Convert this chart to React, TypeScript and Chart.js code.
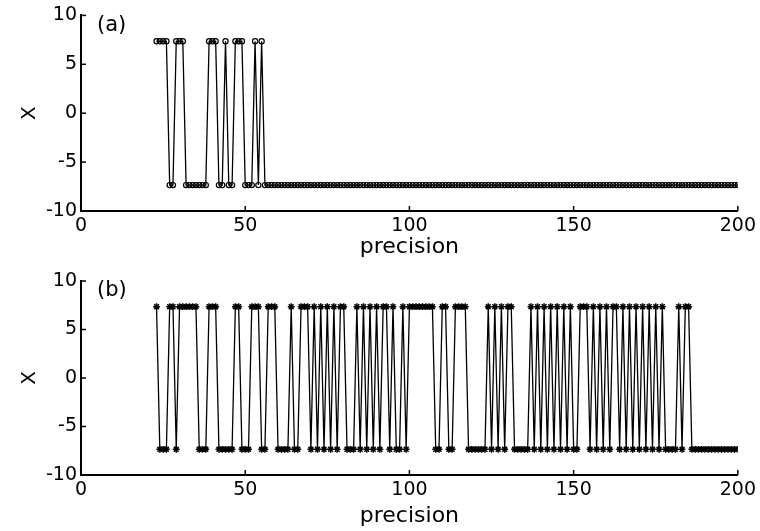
import React, { useEffect, useRef } from "react";
import { Chart, registerables } from "chart.js";

Chart.register(...registerables);

// ---- data ----
const H = 7.35;
const L = -7.35;
const firstPrecision = 23;
const lastPrecision = 200;
const precision: number[] = Array.from(
  { length: lastPrecision - firstPrecision + 1 },
  (_, i) => firstPrecision + i
);

// panel (a): x at precision 23..200
const xA: number[] = [
  H, H, H, H, L, L, H, // 23-29
  H, H, L, L, L, L, L, L, L, H, // 30-39
  H, H, L, L, H, L, L, H, H, H, // 40-49
  L, L, L, H, L, H, L, L, L, L, // 50-59
  L, L, L, L, L, L, L, L, L, L, // 60-69
  L, L, L, L, L, L, L, L, L, L, // 70-79
  L, L, L, L, L, L, L, L, L, L, // 80-89
  L, L, L, L, L, L, L, L, L, L, // 90-99
  L, L, L, L, L, L, L, L, L, L, // 100-109
  L, L, L, L, L, L, L, L, L, L, // 110-119
  L, L, L, L, L, L, L, L, L, L, // 120-129
  L, L, L, L, L, L, L, L, L, L, // 130-139
  L, L, L, L, L, L, L, L, L, L, // 140-149
  L, L, L, L, L, L, L, L, L, L, // 150-159
  L, L, L, L, L, L, L, L, L, L, // 160-169
  L, L, L, L, L, L, L, L, L, L, // 170-179
  L, L, L, L, L, L, L, L, L, L, // 180-189
  L, L, L, L, L, L, L, L, L, L, // 190-199
  L, // 200
];

// panel (b): x at precision 23..200
const xB: number[] = [
  H, L, L, L, H, H, L, // 23-29
  H, H, H, H, H, H, L, L, L, H, // 30-39
  H, H, L, L, L, L, L, H, H, L, // 40-49
  L, L, H, H, H, L, L, H, H, H, // 50-59
  L, L, L, L, H, L, L, H, H, H, // 60-69
  L, H, L, H, L, H, L, H, L, H, // 70-79
  H, L, L, L, H, L, H, L, H, L, // 80-89
  H, L, H, H, L, H, L, L, H, L, // 90-99
  H, H, H, H, H, H, H, H, L, L, // 100-109
  H, H, L, L, H, H, H, H, L, L, // 110-119
  L, L, L, L, H, L, H, L, H, L, // 120-129
  H, H, L, L, L, L, L, H, L, H, // 130-139
  L, H, L, H, L, H, L, H, L, H, // 140-149
  L, L, H, H, H, L, H, L, H, L, // 150-159
  H, L, H, H, L, H, L, H, L, H, // 160-169
  L, H, L, H, L, H, L, H, L, L, // 170-179
  L, L, H, L, H, H, L, L, L, L, // 180-189
  L, L, L, L, L, L, L, L, L, L, // 190-199
  L, // 200
];

const xTicks = [0, 50, 100, 150, 200];
const yTicks = [-10, -5, 0, 5, 10];
const xMin = 0, xMax = 200, yMin = -10, yMax = 10;
const panelLabels = ["(a)", "(b)"];
const xTitle = "precision";
const yTitle = "X";

const FONT = '"DejaVu Sans", sans-serif';

const innerTicks = {
  id: "innerTicks",
  afterDraw(chart: any, _args: any, opts: any) {
    const { ctx, chartArea, scales } = chart;
    ctx.save();
    ctx.strokeStyle = "#000";
    ctx.lineWidth = 1.5;
    xTicks.forEach((v) => {
      const px = scales.x.getPixelForValue(v);
      ctx.beginPath();
      ctx.moveTo(px, chartArea.bottom);
      ctx.lineTo(px, chartArea.bottom - 5);
      ctx.stroke();
    });
    yTicks.forEach((v) => {
      const py = scales.y.getPixelForValue(v);
      ctx.beginPath();
      ctx.moveTo(chartArea.left, py);
      ctx.lineTo(chartArea.left + 5, py);
      ctx.stroke();
    });
    ctx.fillStyle = "#000";
    ctx.font = `21px ${FONT}`;
    ctx.textAlign = "left";
    ctx.textBaseline = "middle";
    ctx.fillText(opts.text, chartArea.left + 16, chartArea.top + 10);
    ctx.restore();
  },
};

function makeConfig(
  values: number[],
  pointStyle: string,
  radius: number,
  pointBorder: number,
  label: string,
  topPad: number,
  xAxisH: number,
  titlePadBottom: number
): any {
  return {
    type: "line",
    data: {
      datasets: [
        {
          data: precision.map((p, i) => ({ x: p, y: values[i] })),
          borderColor: "#000",
          borderWidth: 1.3,
          pointStyle,
          pointRadius: radius,
          pointBorderColor: "#000",
          pointBackgroundColor: "rgba(0,0,0,0)",
          pointBorderWidth: pointBorder,
          tension: 0,
          fill: false,
        },
      ],
    },
    options: {
      responsive: false,
      animation: false,
      events: [],
      layout: { padding: { top: topPad, right: 20, left: 0, bottom: 0 } },
      plugins: {
        legend: { display: false },
        tooltip: { enabled: false },
        innerTicks: { text: label },
      },
      scales: {
        x: {
          type: "linear",
          min: xMin,
          max: xMax,
          afterBuildTicks: (s: any) => {
            s.ticks = xTicks.map((v) => ({ value: v }));
          },
          afterFit: (s: any) => {
            s.height = xAxisH;
          },
          grid: { display: false, drawTicks: false, tickLength: 0 },
          border: { display: true, color: "#000", width: 2 },
          ticks: {
            color: "#000",
            font: { family: FONT, size: 19 },
            padding: 4,
            maxRotation: 0,
            autoSkip: false,
          },
          title: {
            display: true,
            text: xTitle,
            color: "#000",
            font: { family: FONT, size: 22 },
            padding: { top: 0, bottom: titlePadBottom },
          },
        },
        y: {
          type: "linear",
          min: yMin,
          max: yMax,
          afterBuildTicks: (s: any) => {
            s.ticks = yTicks.map((v) => ({ value: v }));
          },
          afterFit: (s: any) => {
            s.width = 81;
          },
          grid: { display: false, drawTicks: false, tickLength: 0 },
          border: { display: true, color: "#000", width: 2 },
          ticks: {
            color: "#000",
            font: { family: FONT, size: 19 },
            padding: 4,
            autoSkip: false,
          },
          title: {
            display: true,
            text: yTitle,
            color: "#000",
            font: { family: FONT, size: 20 },
            padding: { top: 18, bottom: 0 },
          },
        },
      },
    },
    plugins: [innerTicks],
  };
}

export default function App() {
  const refA = useRef<HTMLCanvasElement | null>(null);
  const refB = useRef<HTMLCanvasElement | null>(null);

  useEffect(() => {
    const a = new Chart(
      refA.current as HTMLCanvasElement,
      makeConfig(xA, "circle", 2.6, 1.2, panelLabels[0], 14, 54, 5)
    );
    const b = new Chart(
      refB.current as HTMLCanvasElement,
      makeConfig(xB, "star", 3.4, 1.5, panelLabels[1], 16, 56, 2)
    );
    return () => {
      a.destroy();
      b.destroy();
    };
  }, []);

  return (
    <div
      style={{
        position: "absolute",
        left: 0,
        top: 0,
        width: 760,
        height: 531,
        background: "#fff",
      }}
    >
      <canvas
        ref={refA}
        width={760}
        height={265}
        style={{ position: "absolute", left: 0, top: 0, display: "block" }}
      />
      <canvas
        ref={refB}
        width={760}
        height={266}
        style={{ position: "absolute", left: 0, top: 265, display: "block" }}
      />
    </div>
  );
}
